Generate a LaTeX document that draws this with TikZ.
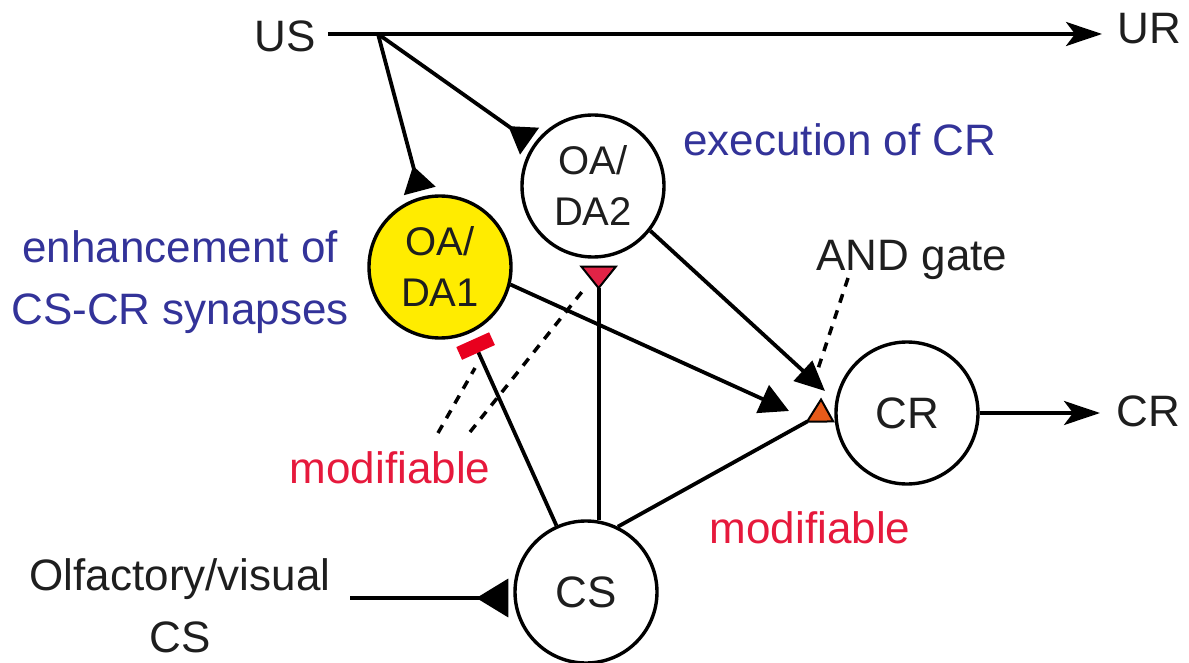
\documentclass[tikz,border=0pt]{standalone}
\usepackage{fontspec}
\setmainfont{Liberation Sans}
\usetikzlibrary{arrows.meta}
\definecolor{ublue}{RGB}{51,51,153}
\definecolor{ured}{RGB}{230,25,60}
\definecolor{barred}{RGB}{232,0,30}
\definecolor{trired}{RGB}{225,35,70}
\definecolor{torange}{RGB}{230,90,25}
\definecolor{dyellow}{RGB}{255,236,0}
\definecolor{txt}{RGB}{30,30,30}
\begin{document}
\begin{tikzpicture}[x=1pt,y=-1pt,
  neuron/.style={circle, draw=black, line width=3.4pt, minimum size=142pt, inner sep=0pt, text=txt, align=center},
  oada/.style={font=\fontsize{40}{51}\selectfont},
  big/.style={font=\fontsize{44}{62}\selectfont},
  lbl/.style={inner sep=0pt, text=txt, font=\fontsize{44}{62}\selectfont, align=center},
  conn/.style={line width=3.8pt, line cap=butt},
  dashline/.style={line width=3.5pt, dash pattern=on 9pt off 8pt},
  intip/.style={-{Triangle[reversed,length=26pt,width=32pt]}},
  outtip/.style={-{Stealth[length=36pt,width=24pt,inset=9pt]}}
]
\useasboundingbox (0,0) rectangle (1189,663);

% neurons
\node[neuron, fill=dyellow, oada] (DA1) at (440,267) {OA/\\DA1};
\node[neuron, oada] (DA2) at (593,186) {OA/\\DA2};
\node[neuron, big] (CR) at (907,413) {CR};
\node[neuron, big] (CS) at (586,592) {CS};

% labels
\node[lbl] (US) at (285,36) {US};
\node[lbl] (UR) at (1149,29) {UR};
\node[lbl] (CRo) at (1148,411) {CR};
\node[lbl, text=ublue] (exec) at (840,140) {execution of CR};
\node[lbl, text=ublue] (enh) at (180,282) {enhancement of\\CS-CR synapses};
\node[lbl] (and) at (912,260) {AND gate};
\node[lbl, text=ured] (mod1) at (390,468) {modifiable};
\node[lbl, text=ured] (mod2) at (810,528) {modifiable};
\node[lbl] (olf) at (180,606) {Olfactory/visual\\CS};

% free ends
\coordinate (br) at (378,34);
\coordinate (csin) at (350,598);
\coordinate (tA) at (789,411);
\coordinate (tB) at (825,391);
\coordinate (tO) at (828,410);
\coordinate (m1a) at (438,433);
\coordinate (m1b) at (475,368);
\coordinate (m2a) at (470,432);
\coordinate (m2b) at (585,288);
\coordinate (g1) at (848,278);
\coordinate (g2) at (817,372);

% US -> UR
\draw[conn, outtip, shorten <=12pt, shorten >=15pt] (US.east |- br) -- (UR.west |- br);
% US -> OA/DA
\draw[conn, intip, shorten >=6pt] (br) -- (DA1);
\draw[conn, intip, shorten >=5pt] (br) -- (DA2);
% CS input
\draw[conn, -{Triangle[reversed,length=32pt,width=38pt]}, shorten >=5pt] (csin) -- (csin -| CS.west);
% OA/DA -> CR
\draw[conn, -{Triangle[length=29pt,width=30pt]}] (DA1.-14) -- (tA);
\draw[conn, -{Triangle[length=30pt,width=27pt]}] (DA2.-38) -- (tB);
% CS -> OA/DA (modifiable)
\draw[conn, -{Triangle[reversed,length=24pt,width=38pt,fill=trired,line width=2pt]}, shorten >=7pt] (CS.80) -- (CS.80 |- DA2.south);
\draw[conn, -{Rectangle[length=14pt,width=36pt,color=barred]}, shorten >=7pt] (CS.114) -- (DA1);
% CS -> CR
\draw[white, line width=10pt, shorten <=40pt, shorten >=24pt] (CS.64) -- (tO);
\draw[conn, -{Triangle[reversed,length=26pt,width=28pt,fill=torange,line width=2pt]}] (CS.64) -- (tO);
% CR output
\draw[conn, outtip, shorten >=16pt] (CR.east) -- (CRo.west |- CR.east);

% dashed pointers
\draw[dashline] (m1a) -- (m1b);
\draw[dashline] (m2a) -- (m2b);
\draw[dashline] (g1) -- (g2);
\end{tikzpicture}
\end{document}
